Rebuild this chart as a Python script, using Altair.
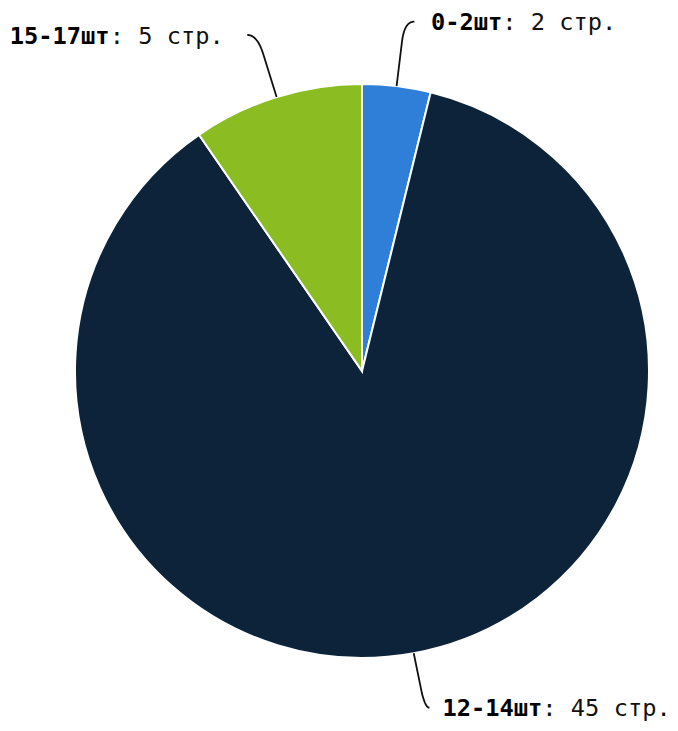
import math
import altair as alt
import pandas as pd

# ---- data ----
names = ["0-2шт", "12-14шт", "15-17шт"]
values = [2, 45, 5]
unit = "стр."
colors = ["#2f7ed8", "#0d233a", "#8bbc21"]

# ---- layout / style ----
W, H = 662, 715
CX, CY = 354, 363          # pie centre (chart coords)
R = 287                    # pie radius
RB = 332                   # radius where connector starts to bend
RL = 352                   # label radius
FS = 23.7
CW = FS * 0.602            # DejaVu Sans Mono advance width
FONT = "DejaVu Sans Mono"
# per-label fine layout: (vertical shift, connector end offset, text gap)
label_style = [(0, 10, 16.5), (-9.5, 4, 13), (0, 10, 23.5)]

total = sum(values)
pie_df = pd.DataFrame({"name": names, "value": values, "ord": list(range(len(names)))})

line_rows, bold_rows, norm_rows = [], [], []
cum = 0
for i, (n, v) in enumerate(zip(names, values)):
    dy, end_off, gap = label_style[i]
    a = (cum + v / 2) / total * 2 * math.pi
    cum += v
    s, c = math.sin(a), math.cos(a)
    ex, ey = CX + R * s, CY - R * c
    bx, by = CX + RB * s, CY - RB * c + dy * 0.5
    lx, ly = CX + RL * s, CY - RL * c + dy
    right = s >= 0
    endx = lx + (end_off if right else -end_off)
    pts = [(ex, ey)]
    for k in range(0, 21):
        t = k / 20
        qx = (1 - t) ** 2 * bx + 2 * (1 - t) * t * lx + t ** 2 * endx
        qy = (1 - t) ** 2 * by + 2 * (1 - t) * t * ly + t ** 2 * ly
        pts.append((qx, qy))
    for j, (px, py) in enumerate(pts):
        line_rows.append({"slice": n, "i": j, "px": px, "py": py})
    suffix = f": {v} {unit}"
    full_len = len(n) + len(suffix)
    if right:
        x0 = endx + gap
    else:
        x0 = endx - gap - full_len * CW
    base = ly + 0.365 * FS
    bold_rows.append({"t": n, "px": x0, "py": base})
    norm_rows.append({"t": suffix, "px": x0 + len(n) * CW, "py": base})

pie = alt.Chart(pie_df).mark_arc(radius=R, stroke="white", strokeWidth=2).encode(
    theta=alt.Theta("value:Q", stack=True),
    order=alt.Order("ord:Q"),
    color=alt.Color("name:N", scale=alt.Scale(domain=names, range=colors), legend=None),
    x=alt.value(CX),
    y=alt.value(CY),
)

lines = alt.Chart(pd.DataFrame(line_rows)).mark_line(color="#111", strokeWidth=1.8).encode(
    x=alt.X("px:Q", scale=None, axis=None),
    y=alt.Y("py:Q", scale=None, axis=None),
    detail="slice:N",
    order="i:Q",
)

bold = alt.Chart(pd.DataFrame(bold_rows)).mark_text(
    font=FONT, fontSize=FS, fontWeight="bold", align="left", baseline="alphabetic", color="#000"
).encode(
    x=alt.X("px:Q", scale=None, axis=None),
    y=alt.Y("py:Q", scale=None, axis=None),
    text="t:N",
)

norm = alt.Chart(pd.DataFrame(norm_rows)).mark_text(
    font=FONT, fontSize=FS, fontWeight="normal", align="left", baseline="alphabetic", color="#111"
).encode(
    x=alt.X("px:Q", scale=None, axis=None),
    y=alt.Y("py:Q", scale=None, axis=None),
    text="t:N",
)

chart = alt.layer(pie, lines, bold, norm).resolve_scale(x="independent", y="independent").properties(
    width=W, height=H, padding=0, autosize=alt.AutoSizeParams(type="none")
).configure_view(stroke=None)

chart.save("out.html", embed_options={"renderer": "svg", "actions": False})
